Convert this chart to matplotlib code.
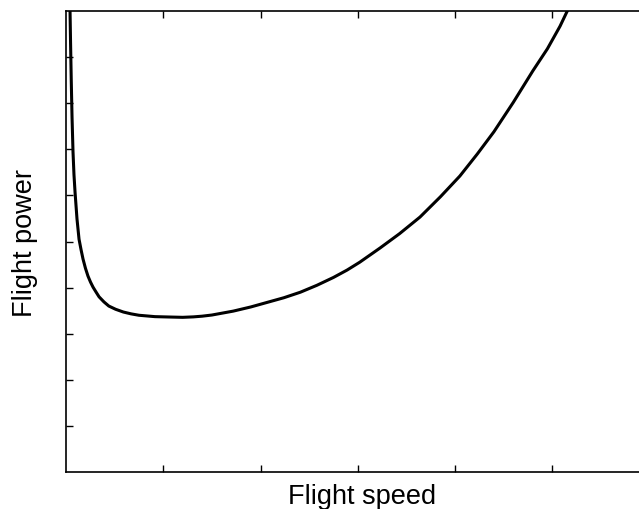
import matplotlib
matplotlib.use("Agg")
import matplotlib.pyplot as plt

plt.rcParams['font.family'] = ['Liberation Sans', 'DejaVu Sans']

# speed / power (arbitrary units)
speed = [0.04, 0.047, 0.054, 0.062, 0.072, 0.082, 0.093, 0.113, 0.134, 0.155,
         0.175, 0.20, 0.226, 0.252, 0.278, 0.31, 0.34, 0.39, 0.44, 0.51,
         0.59, 0.67, 0.75, 0.915, 1.1, 1.2, 1.31, 1.4, 1.5, 1.72,
         1.9, 2.07, 2.24, 2.41, 2.58, 2.75, 2.89, 3.02, 3.23, 3.43,
         3.64, 3.85, 4.05, 4.23, 4.40, 4.60, 4.80, 4.95, 5.08, 5.15,
         5.18]
power = [10.2, 9.3, 8.5, 7.7, 6.95, 6.45, 6.07, 5.49, 5.05, 4.82,
         4.62, 4.42, 4.25, 4.12, 4.01, 3.90, 3.80, 3.69, 3.60, 3.53,
         3.47, 3.43, 3.40, 3.37, 3.36, 3.355, 3.365, 3.38, 3.405, 3.49,
         3.58, 3.68, 3.78, 3.90, 4.05, 4.22, 4.38, 4.55, 4.86, 5.17,
         5.53, 5.97, 6.42, 6.90, 7.38, 8.02, 8.70, 9.18, 9.67, 9.98,
         10.1]

x_ticks = [1, 2, 3, 4, 5, 6]
y_ticks = list(range(1, 10))

W, H = 639, 510
left, right, top, bottom = 66, 659, 12, 473   # axes box in pixels (right runs off the page)
fig = plt.figure(figsize=(W / 100, H / 100), dpi=100)
ax = fig.add_axes([left / W, (H - bottom) / H, (right - left) / W, (bottom - top) / H])

ax.plot(speed, power, color='black', lw=2.2, solid_capstyle='round',
        solid_joinstyle='round')

ax.set_xlim(0, (right - left) / 97.25)
ax.set_ylim(0, 10)
ax.set_xticks(x_ticks)
ax.set_yticks(y_ticks)
ax.set_xticklabels([])
ax.set_yticklabels([])
ax.tick_params(direction='in', length=5, width=1, top=True, right=False)
ax.spines['right'].set_visible(False)
for s in ['left', 'bottom', 'top']:
    ax.spines[s].set_linewidth(1.2)

ax.set_xlabel('Flight speed', fontsize=19.5, va='baseline')
ax.xaxis.set_label_coords(0.5, (bottom - 504) / (bottom - top))
ax.set_ylabel('Flight power', fontsize=19.5, va='baseline')
ax.yaxis.set_label_coords((32 - left) / (right - left), 0.5 + (bottom + top - 2 * 243) / 2 / (bottom - top))

fig.savefig('out.png', dpi=100)
